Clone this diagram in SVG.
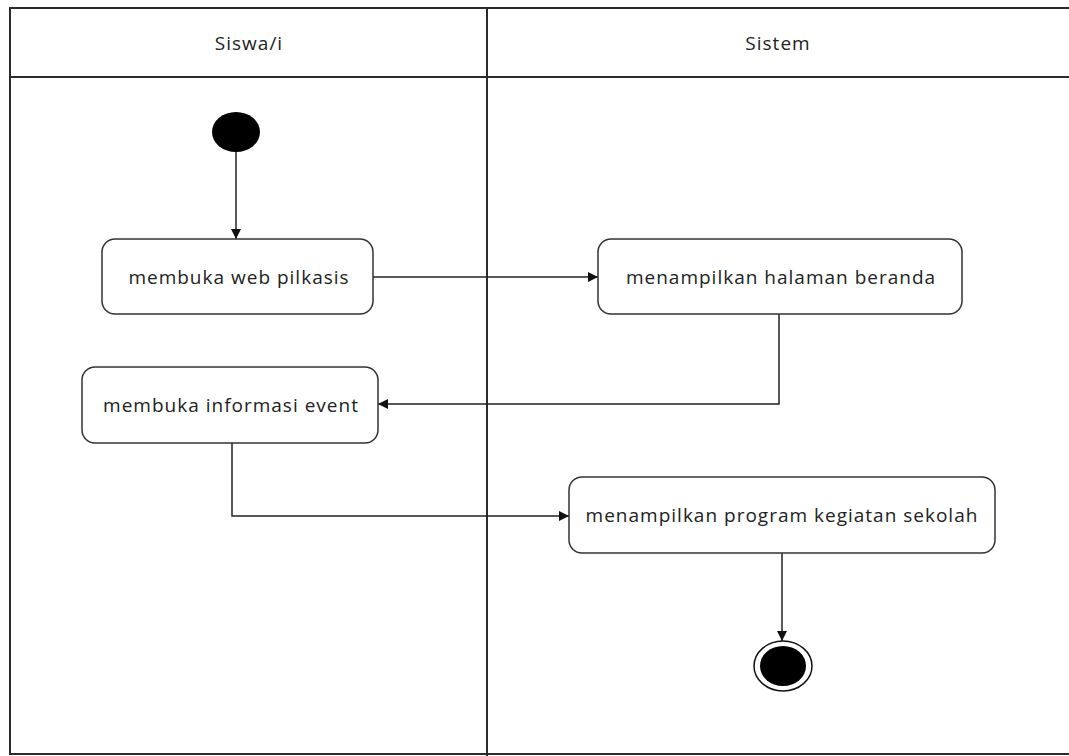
<svg xmlns="http://www.w3.org/2000/svg" width="1069" height="756" viewBox="0 0 1069 756">
<style>
.lane{fill:none;stroke:#2b2b2b;stroke-width:2}
.act{fill:#fff;stroke:#333;stroke-width:1.5}
.t{font-family:"Open Sans","Noto Sans",sans-serif;font-size:19px;letter-spacing:1px;fill:#222;text-anchor:middle;dominant-baseline:central}
.c{fill:none;stroke:#222;stroke-width:1.5}
</style>
<defs>
<marker id="ar" viewBox="0 0 10 10" refX="10" refY="5" markerWidth="10" markerHeight="10" markerUnits="userSpaceOnUse" orient="auto">
<path d="M0,0 L10,5 L0,10 Z" fill="#111"/>
</marker>
</defs>
<rect width="1069" height="756" fill="#fff"/>
<g id="swimlanes">
<rect class="lane" x="10" y="8" width="1070" height="746"/>
<line class="lane" x1="10" y1="77" x2="1069" y2="77" stroke="#666"/>
<line class="lane" x1="487" y1="8" x2="487" y2="756"/>
<text class="t" x="249" y="43">Siswa/i</text>
<text class="t" x="778" y="43">Sistem</text>
</g>
<g id="connectors">
<line class="c" x1="236" y1="152" x2="236" y2="239" marker-end="url(#ar)"/>
<line class="c" x1="373" y1="277" x2="598" y2="277" marker-end="url(#ar)"/>
<polyline class="c" points="779,314 779,404 378,404" marker-end="url(#ar)"/>
<polyline class="c" points="232,443 232,516 569,516" marker-end="url(#ar)"/>
<line class="c" x1="782" y1="553" x2="782" y2="641" marker-end="url(#ar)"/>
</g>
<g id="start">
<ellipse cx="236" cy="132" rx="24" ry="20" fill="#000"/>
</g>
<g id="a1">
<rect class="act" x="102" y="239" width="271" height="75" rx="13"/>
<text class="t" x="239" y="277">membuka web pilkasis</text>
</g>
<g id="a2">
<rect class="act" x="598" y="239" width="364" height="75" rx="13"/>
<text class="t" x="781" y="277">menampilkan halaman beranda</text>
</g>
<g id="a3">
<rect class="act" x="82" y="367" width="296" height="76" rx="13"/>
<text class="t" x="231" y="405">membuka informasi event</text>
</g>
<g id="a4">
<rect class="act" x="569" y="477" width="426" height="76" rx="13"/>
<text class="t" x="782" y="515">menampilkan program kegiatan sekolah</text>
</g>
<g id="end">
<ellipse cx="783" cy="666" rx="29" ry="25" fill="#fff" stroke="#111" stroke-width="1.5"/>
<ellipse cx="783" cy="666" rx="23" ry="20" fill="#000"/>
</g>
</svg>
